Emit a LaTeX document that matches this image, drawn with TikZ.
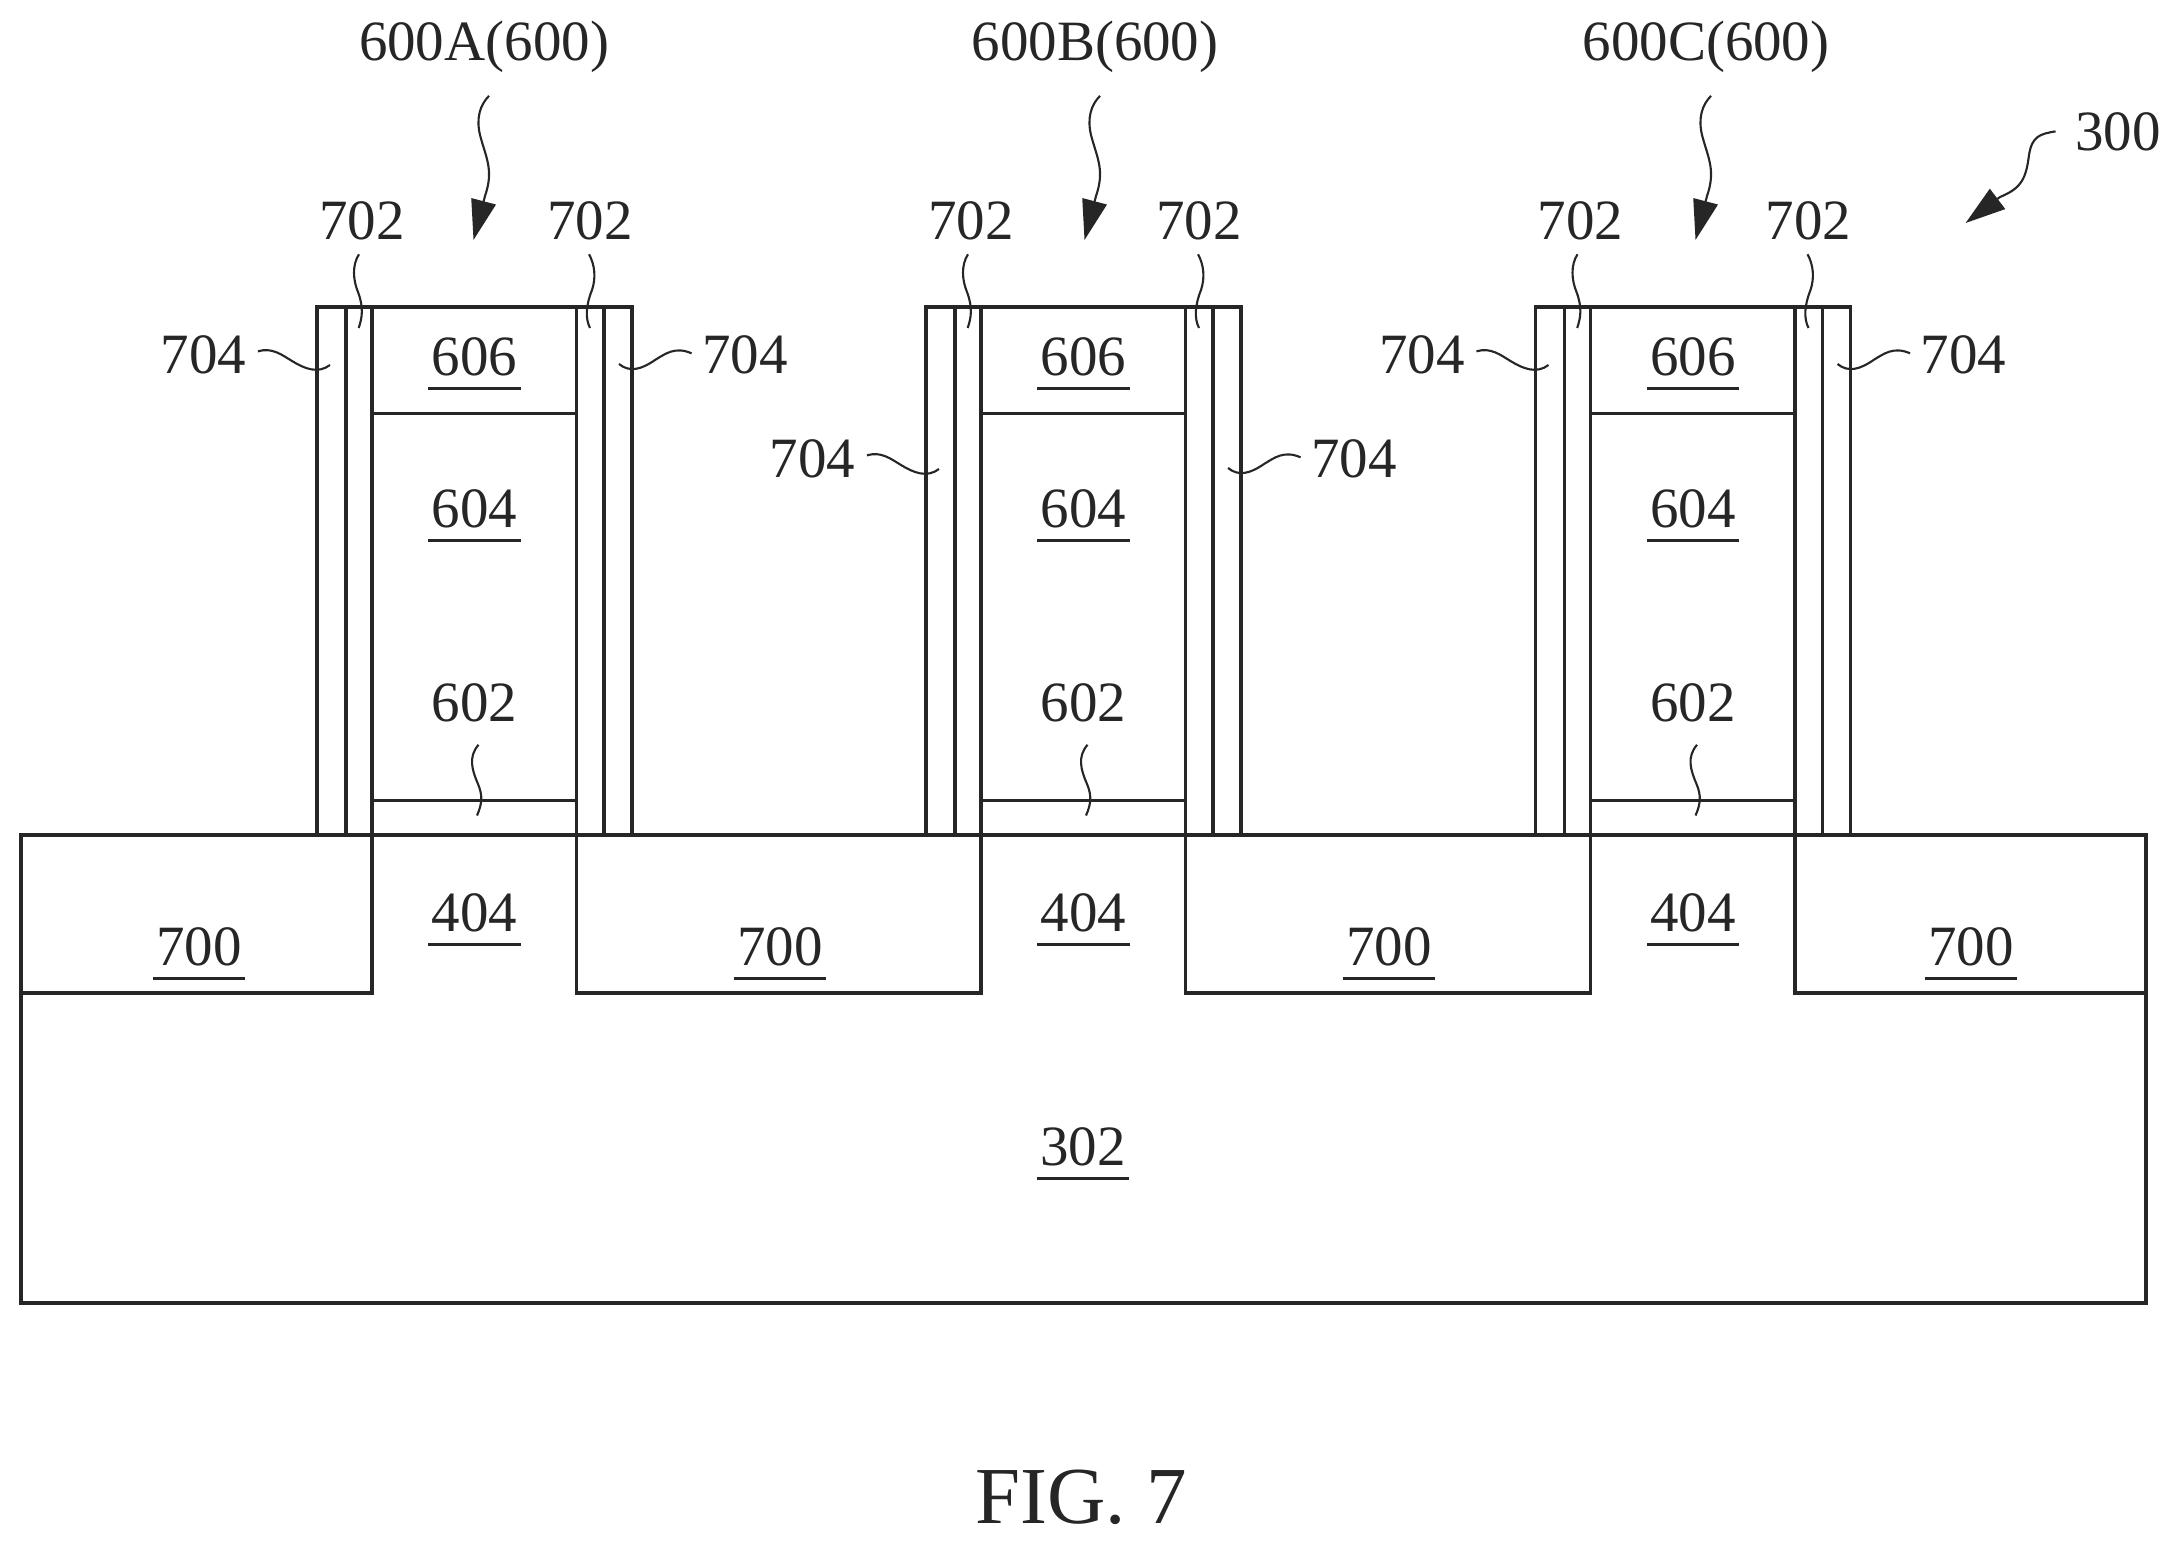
\documentclass[tikz,border=0pt]{standalone}
\usepackage{fontspec}
\setmainfont{Liberation Serif}
\usetikzlibrary{arrows.meta}
\newcommand{\ulab}[1]{\setbox0=\hbox{#1}\rlap{\kern-1.0pt\rule[-4.3pt]{\dimexpr\wd0+2.0pt\relax}{0.9pt}}\box0}
\definecolor{inkgray}{gray}{0.15}
\tikzset{
  wall/.style={draw=inkgray, line width=1pt},
  lab/.style={anchor=base, inner sep=1.4mm, text=inkgray, font=\fontsize{16.2}{19}\selectfont},
  figlab/.style={lab, font=\fontsize{23}{27}\selectfont},
  leader/.style={draw=inkgray, line width=0.6pt},
  pointer/.style={leader, -{Triangle[length=4mm, width=2.5mm]}}
}

\begin{document}
\begin{tikzpicture}[x=0.01cm, y=-0.01cm]
    \useasboundingbox (0,0) rectangle (2179,1542);
    % substrate and isolation
    \draw[wall] (21,835) rectangle (2146,1303);
    \draw[wall] (21,993) -- (372,993) -- (372,835);
    \draw[wall] (576.5,835) -- (576.5,993) -- (981,993) -- (981,835);
    \draw[wall] (1185.5,835) -- (1185.5,993) -- (1590.5,993) -- (1590.5,835);
    \draw[wall] (1795,835) -- (1795,993) -- (2146,993);
    \node[lab] (lblsub) at (1083,1165) {\ulab{302}};
    \foreach \c/\x in {a/199, b/780, c/1389, d/1971}
      \node[lab] (lbliso\c) at (\x,965) {\ulab{700}};
    % gate stacks
    \foreach \c/\dx/\dy in {A/0/0, B/609/104, C/1218.5/0}
    {
      \begin{scope}[shift={(\dx,0)}]
        \draw[wall] (317,835) -- (317,307) -- (632,307) -- (632,835);
        \draw[wall] (346,307) -- (346,835);
        \draw[wall] (372,307) -- (372,835);
        \draw[wall] (576.5,307) -- (576.5,835);
        \draw[wall] (604,307) -- (604,835);
        \draw[wall] (372,413.5) -- (576.5,413.5);
        \draw[wall] (372,800.5) -- (576.5,800.5);
        \node[lab] (lblcap\c) at (474.5,375) {\ulab{606}};
        \node[lab] (lblgate\c) at (474.5,527) {\ulab{604}};
        \node[lab] (lbldiel\c) at (474.5,721.5) {602};
        \node[lab] (lblfin\c) at (474.5,931) {\ulab{404}};
        \node[lab] (lblspl\c) at (362,239) {702};
        \node[lab] (lblspr\c) at (590,239) {702};
        \node[lab] (lbloutl\c) at (203.5,373+\dy) {704};
        \node[lab] (lbloutr\c) at (745,373+\dy) {704};
        \coordinate (enddiel\c) at (477,815.5);
        \coordinate (endspl\c) at (358.7,328);
        \coordinate (endspr\c) at (590,328);
        \coordinate (endoutl\c) at (330,365+\dy);
        \coordinate (endoutr\c) at (619,364+\dy);
        \draw[leader] ([shift={(4,8)}]lbldiel\c.south) .. controls (468,757) and (472,770) .. (478,784) .. controls (483,796) and (482,804) .. (enddiel\c);
        \draw[leader] ([shift={(-3,0)}]lblspl\c.south) .. controls (352,265) and (353,280) .. (358,292) .. controls (364,308) and (362,318) .. (endspl\c);
        \draw[leader] ([shift={(-1,0)}]lblspr\c.south) .. controls (595,265) and (596,278) .. (592,290) .. controls (586,305) and (585,318) .. (endspr\c);
        \draw[leader] ([shift={(-3,-3)}]lbloutl\c.east) .. controls (272,347+\dy) and (282,355+\dy) .. (292,361+\dy) .. controls (305,369+\dy) and (318,374+\dy) .. (endoutl\c);
        \draw[leader] ([shift={(4,-1)}]lbloutr\c.west) .. controls (675,346+\dy) and (665,354+\dy) .. (655,360+\dy) .. controls (642,369+\dy) and (630,373+\dy) .. (endoutr\c);
      \end{scope}
    }
    % group labels and arrows
    \foreach \c/\dx/\txt in {A/0/600A(600), B/611/600B(600), C/1222/600C(600)}
    {
      \begin{scope}[shift={(\dx,0)}]
        \node[lab] (lblgrp\c) at (484,60) {\txt};
        \coordinate (tip\c) at (473.5,240);
        \draw[pointer] ([shift={(5,9)}]lblgrp\c.south) .. controls (480,105) and (476,118) .. (480,135) .. controls (486,158) and (494,170) .. (485,196) -- (tip\c);
      \end{scope}
    }
    \node[lab] (lblwhole) at (2118,150) {300};
    \coordinate (tipwhole) at (1965.6,223);
    \draw[pointer] ([shift={(-5,0)}]lblwhole.west) .. controls (2040,134) and (2032,136) .. (2029,155) .. controls (2026,178) and (2022,188) .. (2000,197) -- (tipwhole);
    \node[figlab] (lblfig) at (1081,1523) {FIG. 7};
\end{tikzpicture}
\end{document}
